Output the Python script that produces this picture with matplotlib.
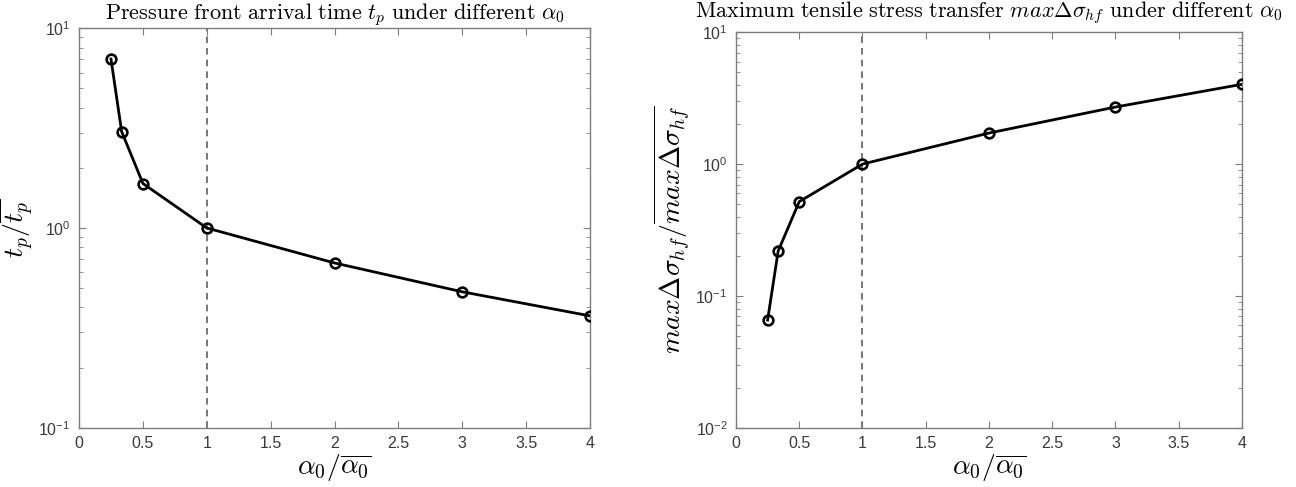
import matplotlib
matplotlib.use("Agg")
import matplotlib.pyplot as plt
from matplotlib.ticker import LogLocator, NullFormatter

plt.rcParams['mathtext.fontset'] = 'cm'
plt.rcParams['font.family'] = ['Liberation Sans', 'DejaVu Sans']

alpha_ratio = [0.25, 1/3, 0.5, 1.0, 2.0, 3.0, 4.0]
tp_ratio = [7.02, 3.04, 1.67, 1.0, 0.668, 0.479, 0.363]
stress_ratio = [0.0656, 0.219, 0.519, 1.0, 1.72, 2.71, 4.03]
xticks = [0, 0.5, 1, 1.5, 2, 2.5, 3, 3.5, 4]
xticklabels = ['0', '0.5', '1', '1.5', '2', '2.5', '3', '3.5', '4']

fig = plt.figure(figsize=(12.96, 4.87), dpi=100)
ax1 = fig.add_axes([0.0610, 0.1218, 0.3943, 0.8201])
ax2 = fig.add_axes([0.5679, 0.1218, 0.3904, 0.8119])

spine_col = '#7d7d7d'
tick_col = '#3a3a3a'

def style(ax, ylim):
    ax.set_yscale('log')
    ax.set_xlim(0, 4)
    ax.set_ylim(*ylim)
    ax.set_xticks(xticks)
    ax.set_xticklabels(xticklabels)
    ax.yaxis.set_major_locator(LogLocator(base=10, numticks=10))
    ax.yaxis.set_minor_locator(LogLocator(base=10, subs=range(2, 10), numticks=20))
    ax.yaxis.set_minor_formatter(NullFormatter())
    ax.tick_params(which='both', direction='in', top=True, right=True,
                   colors=spine_col, labelcolor=tick_col, labelsize=11.5)
    ax.tick_params(axis='x', which='major', pad=6)
    ax.tick_params(axis='y', which='major', pad=6)
    ax.tick_params(which='major', length=5, width=0.8)
    ax.tick_params(which='minor', length=3, width=0.6)
    for s in ax.spines.values():
        s.set_color(spine_col)
        s.set_linewidth(1.0)
    ax.axvline(1, color='#606060', linestyle=(0, (4, 3)), linewidth=1.2, zorder=1)

style(ax1, (0.1, 10))
ax1.plot(alpha_ratio, tp_ratio, color='black', linewidth=2.0, marker='o',
         markersize=7, markerfacecolor='none', markeredgewidth=1.9, zorder=3)
ax1.set_title(r'$\mathrm{Pressure\ front\ arrival\ time}\ t_p\ \mathrm{under\ different}\ \alpha_0$',
              fontsize=16, pad=6)
ax1.set_xlabel(r'$\alpha_0/\overline{\alpha_0}$', fontsize=20, labelpad=1)
ax1.set_ylabel(r'$t_p/\overline{t_p}$', fontsize=20, labelpad=2)

style(ax2, (0.01, 10))
ax2.plot(alpha_ratio, stress_ratio, color='black', linewidth=2.0, marker='o',
         markersize=7, markerfacecolor='none', markeredgewidth=1.9, zorder=3)
ax2.set_title(r'$\mathrm{Maximum\ tensile\ stress\ transfer}\ max\Delta\sigma_{hf}\ \mathrm{under\ different}\ \alpha_0$',
              fontsize=16, pad=11)
ax2.set_xlabel(r'$\alpha_0/\overline{\alpha_0}$', fontsize=20, labelpad=1)
ax2.set_ylabel(r'$max\Delta\sigma_{hf}/\overline{max\Delta\sigma_{hf}}$', fontsize=20, labelpad=2)

fig.savefig('out.png', dpi=100)
